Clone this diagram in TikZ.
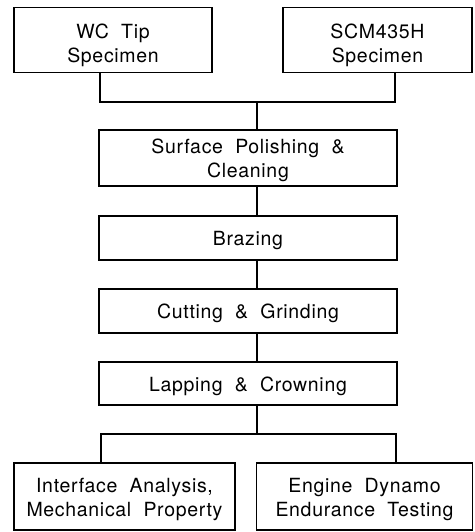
\documentclass[tikz,border=0pt]{standalone}
\usepackage{fontspec}
\setmainfont{TeX Gyre Heros}[LetterSpace=3.5,WordSpace=2]
\newcommand{\boxtext}[2][-3pt]{\raisebox{#1}[\height][\depth]{\begin{tabular}{@{}c@{}}#2\end{tabular}}}
\begin{document}
\begin{tikzpicture}[x=1pt,y=-1pt,
  box/.style={draw, line width=1.8pt, inner sep=0pt,
    font=\fontsize{19.5}{24}\selectfont},
  link/.style={line width=1.8pt}]
\useasboundingbox (0,0) rectangle (474,532);
\node[box, minimum width=198pt, minimum height=65pt] (wc) at (113,40) {\boxtext[-6pt]{WC Tip\\Specimen}};
\node[box, minimum width=189pt, minimum height=65pt] (scm) at (377.5,40) {\boxtext[-6pt]{SCM435H\\Specimen}};
\node[box, minimum width=298pt, minimum height=56pt] (surf) at (248,158) {\boxtext{Surface Polishing \&\\Cleaning}};
\node[box, minimum width=298pt, minimum height=44pt] (braz) at (248,238) {\boxtext{Brazing}};
\node[box, minimum width=298pt, minimum height=44pt] (cut) at (248,311) {\boxtext{Cutting \& Grinding}};
\node[box, minimum width=298pt, minimum height=43pt] (lap) at (248,383.5) {\boxtext{Lapping \& Crowning}};
\node[box, minimum width=221pt, minimum height=67pt] (ia) at (124.5,496.5) {\boxtext{Interface Analysis,\\Mechanical Property}};
\node[box, minimum width=216pt, minimum height=67pt] (ed) at (364.5,496.5) {\boxtext{Engine Dynamo\\Endurance Testing}};
\coordinate (jl) at (100,102);
\coordinate (jr) at (395,102);
\coordinate (jc) at (256.7,102);
\coordinate (bl) at (100.7,434.3);
\coordinate (br) at (396,434.3);
\coordinate (bc) at (257,434.3);
\draw[link] (wc.south -| jl) -- (jl) -- (jr) -- (scm.south -| jr);
\draw[link] (jc) -- (surf.north -| jc);
\draw[link] (surf.south -| jc) -- (braz.north -| jc);
\draw[link] (braz.south -| jc) -- (cut.north -| jc);
\draw[link] (cut.south -| jc) -- (lap.north -| jc);
\draw[link] (lap.south -| bc) -- (bc);
\draw[link] (ia.north -| bl) -- (bl) -- (br) -- (ed.north -| br);
\end{tikzpicture}
\end{document}
